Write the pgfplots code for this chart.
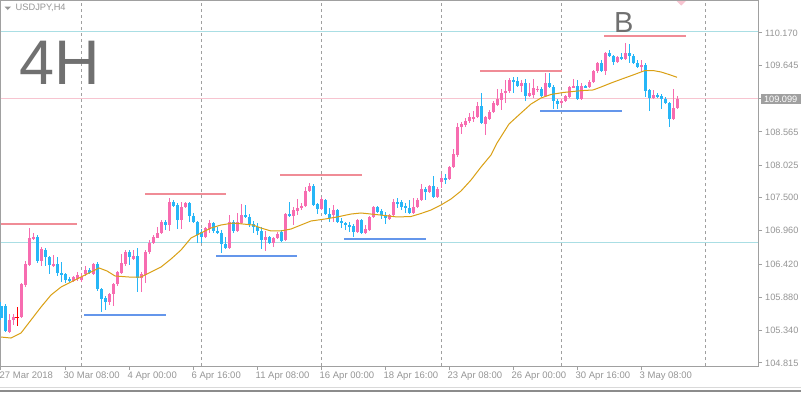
\documentclass[border=0pt]{standalone}
\usepackage{pgfplots}
\pgfplotsset{compat=1.18}
\usepackage{pgfplotstable}
\usetikzlibrary{backgrounds}
\usepackage{fontspec}
\setmainfont{Liberation Sans}
\definecolor{bull}{RGB}{247,108,176}
\definecolor{bear}{RGB}{38,182,247}
\definecolor{resist}{RGB}{240,140,150}
\definecolor{support}{RGB}{100,150,235}
\definecolor{lcyan}{RGB}{170,222,228}
\definecolor{lpink}{RGB}{247,196,208}
\definecolor{framegray}{RGB}{160,160,160}
\definecolor{txtgray}{RGB}{150,150,150}
\definecolor{bigtxt}{RGB}{112,112,112}
\definecolor{maorange}{RGB}{218,160,20}

\pgfplotstableread{
i o h l c
0 105.740 105.805 105.512 105.545
1 105.740 105.772 105.318 105.334
2 105.318 105.610 105.301 105.512
3 105.512 105.610 105.431 105.561
4 105.561 105.723 105.415 105.561
5 105.561 106.112 105.545 106.096
6 106.080 106.470 106.047 106.421
7 106.405 107.005 106.389 106.843
8 106.827 106.924 106.811 106.859
9 106.859 106.892 106.437 106.470
10 106.470 106.697 106.389 106.665
11 106.648 106.681 106.389 106.535
12 106.535 106.551 106.259 106.405
13 106.405 106.567 106.372 106.421
14 106.421 106.535 106.227 106.275
15 106.275 106.454 106.129 106.243
16 106.259 106.275 106.113 106.161
17 106.178 106.210 106.129 106.145
18 106.145 106.227 106.129 106.210
19 106.178 106.292 106.145 106.243
20 106.161 106.275 106.129 106.210
21 106.259 106.389 106.227 106.324
22 106.324 106.357 106.259 106.275
23 106.259 106.437 106.243 106.421
24 106.421 106.454 105.983 106.015
25 106.015 106.031 105.643 105.853
26 105.869 105.902 105.675 105.805
27 105.805 105.950 105.756 105.934
28 105.934 106.112 105.740 106.096
29 106.096 106.308 106.064 106.292
30 106.275 106.583 106.259 106.437
31 106.421 106.648 106.389 106.616
32 106.616 106.648 106.405 106.535
33 106.502 106.648 106.486 106.551
34 106.551 106.681 105.967 106.194
35 106.194 106.292 105.967 106.259
36 106.243 106.648 106.112 106.616
37 106.616 106.811 106.583 106.762
38 106.762 106.892 106.746 106.859
39 106.843 107.021 106.843 106.924
40 106.924 107.135 106.908 107.103
41 107.103 107.135 106.973 107.054
42 107.054 107.492 106.957 107.428
43 107.428 107.460 107.346 107.363
44 107.379 107.411 106.989 107.135
45 107.135 107.428 106.989 107.346
46 107.346 107.428 107.330 107.411
47 107.411 107.428 107.103 107.200
48 107.200 107.249 107.086 107.103
49 107.103 107.119 106.762 106.892
50 106.941 106.989 106.762 106.859
51 106.859 107.021 106.843 107.005
52 106.989 107.135 106.924 107.086
53 107.086 107.103 106.924 106.957
54 106.957 107.021 106.908 106.924
55 106.924 106.973 106.600 106.746
56 106.746 106.859 106.665 106.681
57 106.681 107.216 106.665 107.103
58 107.103 107.135 106.924 106.957
59 106.957 107.249 106.941 107.103
60 107.086 107.395 107.070 107.216
61 107.216 107.379 107.167 107.183
62 107.184 107.232 107.021 107.070
63 107.070 107.119 106.924 107.021
64 107.021 107.086 106.892 106.957
65 106.957 107.021 106.665 106.811
66 106.811 106.957 106.632 106.859
67 106.859 106.876 106.746 106.762
68 106.762 106.859 106.697 106.843
69 106.843 106.941 106.827 106.908
70 106.941 106.973 106.778 106.795
71 106.811 107.249 106.795 107.232
72 107.232 107.428 107.184 107.200
73 107.200 107.346 107.054 107.297
74 107.281 107.476 107.216 107.330
75 107.330 107.411 107.297 107.363
76 107.363 107.670 107.346 107.606
77 107.606 107.735 107.590 107.687
78 107.687 107.719 107.363 107.379
79 107.395 107.411 107.232 107.314
80 107.314 107.508 107.297 107.476
81 107.460 107.476 107.216 107.232
82 107.232 107.330 107.103 107.168
83 107.216 107.379 107.103 107.297
84 107.297 107.314 107.086 107.103
85 107.119 107.168 107.005 107.086
86 107.086 107.103 106.973 107.054
87 107.054 107.103 106.941 107.038
88 107.038 107.070 106.859 106.941
89 106.941 107.151 106.924 107.135
90 107.135 107.151 106.908 106.924
91 106.924 107.054 106.908 106.989
92 106.973 107.200 106.957 107.184
93 107.184 107.363 107.168 107.346
94 107.346 107.363 107.249 107.265
95 107.281 107.314 107.151 107.216
96 107.216 107.265 107.070 107.168
97 107.151 107.232 107.135 107.216
98 107.216 107.476 107.184 107.428
99 107.428 107.492 107.330 107.411
100 107.428 107.460 107.297 107.346
101 107.363 107.411 107.249 107.330
102 107.330 107.460 107.232 107.249
103 107.249 107.492 107.232 107.346
104 107.346 107.492 107.330 107.460
105 107.460 107.719 107.444 107.638
106 107.638 107.670 107.460 107.590
107 107.590 107.703 107.573 107.687
108 107.687 107.849 107.492 107.508
109 107.508 107.670 107.492 107.638
110 107.752 107.881 107.654 107.816
111 107.816 107.881 107.719 107.800
112 107.800 108.012 107.784 107.995
113 107.995 108.287 107.979 108.206
114 108.190 108.709 108.157 108.644
115 108.644 108.725 108.530 108.693
116 108.677 108.790 108.644 108.742
117 108.742 108.871 108.709 108.806
118 108.790 108.904 108.725 108.806
119 108.806 109.050 108.790 108.985
120 108.985 109.196 108.693 108.709
121 108.693 108.823 108.514 108.806
122 108.774 108.920 108.758 108.888
123 108.888 109.066 108.871 109.033
124 109.001 109.261 108.985 109.099
125 109.082 109.261 108.920 109.196
126 109.196 109.407 109.033 109.229
127 109.229 109.439 109.196 109.407
128 109.407 109.455 109.196 109.391
129 109.391 109.455 109.293 109.310
130 109.310 109.407 109.213 109.358
131 109.358 109.423 109.066 109.147
132 109.147 109.358 109.131 109.196
133 109.164 109.423 109.115 109.277
134 109.245 109.310 109.213 109.261
135 109.261 109.293 109.131 109.147
136 109.147 109.520 109.131 109.358
137 109.358 109.520 109.277 109.293
138 109.293 109.326 108.936 109.066
139 109.066 109.099 108.936 109.017
140 109.033 109.099 109.001 109.066
141 109.066 109.164 109.050 109.147
142 109.131 109.310 109.115 109.293
143 109.293 109.423 109.277 109.310
144 109.310 109.407 109.082 109.099
145 109.099 109.358 109.082 109.310
146 109.310 109.326 109.277 109.293
147 109.293 109.407 109.277 109.374
148 109.374 109.569 109.358 109.553
149 109.553 109.699 109.520 109.682
150 109.682 109.731 109.537 109.553
151 109.553 109.862 109.488 109.845
152 109.845 109.894 109.780 109.797
153 109.797 109.813 109.650 109.699
154 109.699 109.797 109.682 109.780
155 109.780 109.845 109.731 109.748
156 109.748 110.007 109.731 109.845
157 109.845 109.991 109.682 109.797
158 109.797 109.829 109.666 109.682
159 109.682 109.731 109.601 109.617
160 109.617 109.731 109.537 109.650
161 109.650 109.682 109.131 109.229
162 109.245 109.261 108.904 109.115
163 109.115 109.245 109.099 109.164
164 109.164 109.196 109.115 109.147
165 109.147 109.180 108.936 109.099
166 109.099 109.131 109.017 109.033
167 109.033 109.050 108.644 108.774
168 108.774 109.261 108.758 108.952
169 108.952 109.147 108.936 109.099
}\candles

\pgfplotstableread{
i v
0 105.236
2.5 105.220
5 105.301
7.5 105.512
10 105.723
12.5 105.918
15 106.047
17.5 106.129
20 106.210
22.5 106.292
24.5 106.357
26.5 106.308
28.5 106.227
32 106.210
35 106.210
37.5 106.292
40 106.372
42.5 106.502
45 106.648
47.5 106.843
50 106.924
52.5 107.005
55 107.054
58 107.086
63 107.054
65 107.005
67.5 106.957
70 106.957
72.5 106.989
75 107.054
77.5 107.119
81 107.151
84 107.184
87.5 107.232
90 107.249
92.5 107.232
96 107.208
99 107.184
102.5 107.192
105 107.241
107.5 107.297
110 107.379
112.5 107.476
115 107.606
117.5 107.784
120 107.995
122.5 108.190
124 108.384
127 108.693
130 108.871
132.5 109.017
135 109.115
137.5 109.172
140.5 109.204
145 109.234
148 109.245
150 109.293
152.5 109.358
155 109.418
158 109.488
161 109.561
163 109.561
165 109.537
167 109.496
169 109.451
}\matable

\begin{document}
\begin{tikzpicture}[x=1bp,y=1bp]
\begin{axis}[
  scale only axis, width=757.5bp, height=365.5bp,
  xmin=-0.125, xmax=189.25, ymin=104.766, ymax=110.697,
  clip=false,
  axis line style={draw=framegray, line width=1bp},
  xtick={0,16,32,48,64,80,96,112,128,144,160},
  xticklabels={27 Mar 2018,30 Mar 08:00,4 Apr 00:00,6 Apr 16:00,11 Apr 08:00,16 Apr 00:00,18 Apr 16:00,23 Apr 08:00,26 Apr 00:00,30 Apr 16:00,3 May 08:00},
  ytick={104.815,105.340,105.880,106.420,106.960,107.500,108.025,108.565,109.105,109.645,110.170},
  yticklabels={104.815,105.340,105.880,106.420,106.960,107.500,108.025,108.565,{},109.645,110.170},
  xtick pos=bottom, ytick pos=right, yticklabel pos=right,
  tick align=outside, major tick length=4bp,
  tick style={draw=framegray, line width=1bp},
  xticklabel style={anchor=north west, inner sep=0pt, xshift=-1.5bp, yshift=-1.8bp, font=\fontsize{9.5bp}{10bp}\selectfont, text=txtgray},
  yticklabel style={anchor=west, inner sep=0pt, xshift=3bp, font=\fontsize{9.2bp}{10bp}\selectfont, text=txtgray},
]
\pgfplotsinvokeforeach{20.125,50.125,80.125,110.125,140.125,176.125}{
  \draw[framegray, line width=1bp, dash pattern=on 3bp off 3bp] (axis cs:#1,104.766) -- (axis cs:#1,110.697);
}
\addplot[lcyan, line width=1bp] coordinates {(-0.125,110.202) (189.25,110.202)};
\addplot[lcyan, line width=1bp] coordinates {(-0.125,106.778) (189.25,106.778)};
\addplot[lpink, line width=1bp] coordinates {(-0.125,109.099) (189.25,109.099)};

% wicks
\addplot[draw=none, mark=none, forget plot,
  restrict expr to domain={\thisrow{c}-\thisrow{o}}{0.00001:100},
  error bars/.cd, y dir=both, y explicit, error mark=none,
  error bar style={draw=bull, line width=1bp}]
  table[x=i, y expr={(\thisrow{h}+\thisrow{l})/2}, y error expr={(\thisrow{h}-\thisrow{l})/2}]{\candles};
\addplot[draw=none, mark=none, forget plot,
  restrict expr to domain={\thisrow{c}-\thisrow{o}}{-100:-0.00001},
  error bars/.cd, y dir=both, y explicit, error mark=none,
  error bar style={draw=bear, line width=1bp}]
  table[x=i, y expr={(\thisrow{h}+\thisrow{l})/2}, y error expr={(\thisrow{h}-\thisrow{l})/2}]{\candles};
% bodies
\addplot[draw=none, mark=none, forget plot,
  restrict expr to domain={\thisrow{c}-\thisrow{o}}{0.00001:100},
  error bars/.cd, y dir=both, y explicit, error mark=none,
  error bar style={draw=bull, line width=3bp}]
  table[x=i, y expr={(\thisrow{o}+\thisrow{c})/2}, y error expr={max(abs(\thisrow{c}-\thisrow{o})/2,0.009)}]{\candles};
\addplot[draw=none, mark=none, forget plot,
  restrict expr to domain={\thisrow{c}-\thisrow{o}}{-100:-0.00001},
  error bars/.cd, y dir=both, y explicit, error mark=none,
  error bar style={draw=bear, line width=3bp}]
  table[x=i, y expr={(\thisrow{o}+\thisrow{c})/2}, y error expr={max(abs(\thisrow{c}-\thisrow{o})/2,0.009)}]{\candles};
% doji
\addplot[red, only marks, mark=-, mark size=1.6bp, mark options={line width=1bp}, forget plot,
  restrict expr to domain={\thisrow{c}-\thisrow{o}}{-0.00001:0.00001},
  error bars/.cd, y dir=both, y explicit, error mark=none,
  error bar style={draw=red, line width=1bp}]
  table[x=i, y=c, y error plus expr={\thisrow{h}-\thisrow{c}}, y error minus expr={\thisrow{c}-\thisrow{l}}]{\candles};

% moving average
\addplot[maorange, line width=1bp] table[x=i, y=v]{\matable};

% resistance levels
\addplot[resist, line width=2bp] coordinates {(-0.125,107.070) (19,107.070)};
\addplot[resist, line width=2bp] coordinates {(36,107.557) (56.25,107.557)};
\addplot[resist, line width=2bp] coordinates {(69.75,107.865) (90.25,107.865)};
\addplot[resist, line width=2bp] coordinates {(119.75,109.561) (140.25,109.561)};
\addplot[resist, line width=2bp] coordinates {(150.75,110.113) (171.25,110.113)};
% support levels
\addplot[support, line width=2bp] coordinates {(20.75,105.593) (41.25,105.593)};
\addplot[support, line width=2bp] coordinates {(53.75,106.551) (74,106.551)};
\addplot[support, line width=2bp] coordinates {(85.75,106.835) (106.25,106.835)};
\addplot[support, line width=2bp] coordinates {(134.75,108.912) (155.25,108.912)};

\coordinate (BL) at (rel axis cs:0,0);
\end{axis}
\coordinate (O) at ([shift={(-0.5,-26)}]BL);
\pgfresetboundingbox
\path[use as bounding box] (O) rectangle ([shift={(801,392)}]O);
\begin{scope}[shift={(O)}]
\begin{scope}[on background layer]
\fill[white] (0,0) rectangle (801,392);
\end{scope}
% bottom window border
\fill[black!45] (0,0) rectangle (801,2.5);
\draw[black!15, line width=1bp] (0,5) -- (801,5);
% price tag
\fill[framegray] (761,288) rectangle (800.5,298);
\node[text=white, inner sep=0pt, font=\fontsize{9.2bp}{10bp}\selectfont] at (780.7,293) {109.099};
% title and annotations
\fill[txtgray] (4.5,385.5) -- (11,385.5) -- (7.75,382) -- cycle;
\node[anchor=west, inner sep=0pt, text=txtgray, font=\fontsize{9.3bp}{10bp}\selectfont] at (15.5,384) {USDJPY,H4};
\node[anchor=base west, inner sep=0pt, text=bigtxt, font=\fontsize{63bp}{66bp}\selectfont] at (19.3,308) {4H};
\node[anchor=base west, inner sep=0pt, text=bigtxt, font=\fontsize{29bp}{30bp}\selectfont] at (614,360) {B};
\fill[lpink] (676.5,391) -- (686,391) -- (681.25,386.5) -- cycle;
\end{scope}
\end{tikzpicture}
\end{document}
